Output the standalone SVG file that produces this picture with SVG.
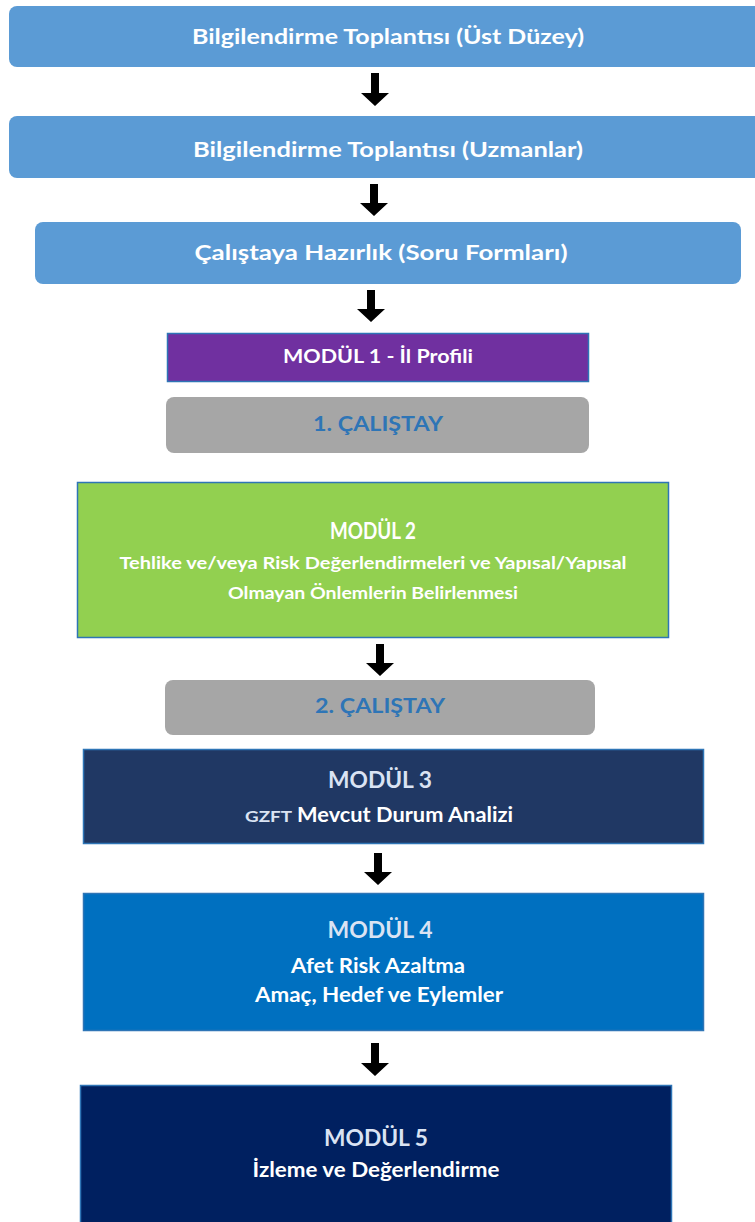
<svg xmlns="http://www.w3.org/2000/svg" width="755" height="1222" viewBox="0 0 755 1222">
<defs>
<style>
text{font-family:Lato,"Liberation Sans",sans-serif;font-weight:bold;text-anchor:middle;}
.w{fill:#ffffff;}
.lt{fill:#dae3f3;}
.bl{fill:#2e75b6;}
.top{fill:#5b9bd5;}
.gray{fill:#a6a6a6;}
.mod{stroke:#2e75b6;stroke-width:1.5;}
.arr{fill:#000000;}
</style>
</defs>
<rect width="755" height="1222" fill="#ffffff"/>
<g id="node1"><rect class="top" x="9" y="6" width="760" height="61" rx="8"/><text class="w" x="388" y="44" font-size="21" textLength="392" lengthAdjust="spacingAndGlyphs">Bilgilendirme Toplantısı (Üst Düzey)</text></g>
<g id="node2"><rect class="top" x="9" y="116" width="760" height="62" rx="8"/><text class="w" x="388" y="157" font-size="21" textLength="390" lengthAdjust="spacingAndGlyphs">Bilgilendirme Toplantısı (Uzmanlar)</text></g>
<g id="node3"><rect class="top" x="35" y="222" width="706" height="62" rx="8"/><text class="w" x="381" y="260" font-size="21" textLength="373" lengthAdjust="spacingAndGlyphs">Çalıştaya Hazırlık (Soru Formları)</text></g>
<g id="node4"><rect x="167.5" y="333.5" width="421" height="48" fill="#7030a0" stroke="#2e75b6" stroke-width="1.5"/><text class="w" x="378" y="363" font-size="18" textLength="190" lengthAdjust="spacingAndGlyphs">MODÜL 1 - İl Profili</text></g>
<g id="node5"><rect class="gray" x="166" y="397" width="423" height="56" rx="8"/><text class="bl" x="378" y="431" font-size="21" textLength="130" lengthAdjust="spacingAndGlyphs">1. ÇALIŞTAY</text></g>
<g id="node6"><rect class="mod" x="77.5" y="482.5" width="591" height="155" fill="#92d050"/>
<text class="w" x="373" y="539" font-size="22" textLength="86" lengthAdjust="spacingAndGlyphs">MODÜL 2</text>
<text class="w" x="373" y="569" font-size="17" textLength="507" lengthAdjust="spacingAndGlyphs">Tehlike ve/veya Risk Değerlendirmeleri ve Yapısal/Yapısal</text>
<text class="w" x="373" y="599" font-size="17" textLength="290" lengthAdjust="spacingAndGlyphs">Olmayan Önlemlerin Belirlenmesi</text></g>
<g id="node7"><rect class="gray" x="165" y="680" width="430" height="55" rx="8"/><text class="bl" x="380" y="713" font-size="21" textLength="130" lengthAdjust="spacingAndGlyphs">2. ÇALIŞTAY</text></g>
<g id="node8"><rect class="mod" x="83.5" y="749.5" width="620" height="94" fill="#203864"/>
<text class="lt" x="380" y="788" font-size="22" textLength="104" lengthAdjust="spacingAndGlyphs">MODÜL 3</text>
<text class="lt" x="268.5" y="822" font-size="16" textLength="47" lengthAdjust="spacingAndGlyphs">GZFT</text>
<text class="w" x="405" y="822" font-size="20" textLength="216" lengthAdjust="spacingAndGlyphs">Mevcut Durum Analizi</text></g>
<g id="node9"><rect class="mod" x="83.5" y="893.5" width="620" height="137" fill="#0070c0"/>
<text class="lt" x="380" y="938" font-size="22" textLength="105" lengthAdjust="spacingAndGlyphs">MODÜL 4</text>
<text class="w" x="378" y="973" font-size="20" textLength="174" lengthAdjust="spacingAndGlyphs">Afet Risk Azaltma</text>
<text class="w" x="379" y="1002" font-size="20" textLength="248" lengthAdjust="spacingAndGlyphs">Amaç, Hedef ve Eylemler</text></g>
<g id="node10"><rect class="mod" x="80.5" y="1085.5" width="591" height="140" fill="#002060"/>
<text class="lt" x="376" y="1146" font-size="22" textLength="104" lengthAdjust="spacingAndGlyphs">MODÜL 5</text>
<text class="w" x="376" y="1177" font-size="20" textLength="247" lengthAdjust="spacingAndGlyphs">İzleme ve Değerlendirme</text></g>
<g id="connectors">
<path class="arr" d="M371 73 H379 V93 H389 L375 106 L361 93 H371 Z"/>
<path class="arr" d="M370 184 H378 V203 H388 L374 216 L360 203 H370 Z"/>
<path class="arr" d="M367 290 H375 V309 H385 L371 322 L357 309 H367 Z"/>
<path class="arr" d="M376 644 H384 V663 H394 L380 676 L366 663 H376 Z"/>
<path class="arr" d="M374 853 H382 V872 H392 L378 885 L364 872 H374 Z"/>
<path class="arr" d="M371 1043 H379 V1063 H389 L375 1076 L361 1063 H371 Z"/>
</g>
</svg>
